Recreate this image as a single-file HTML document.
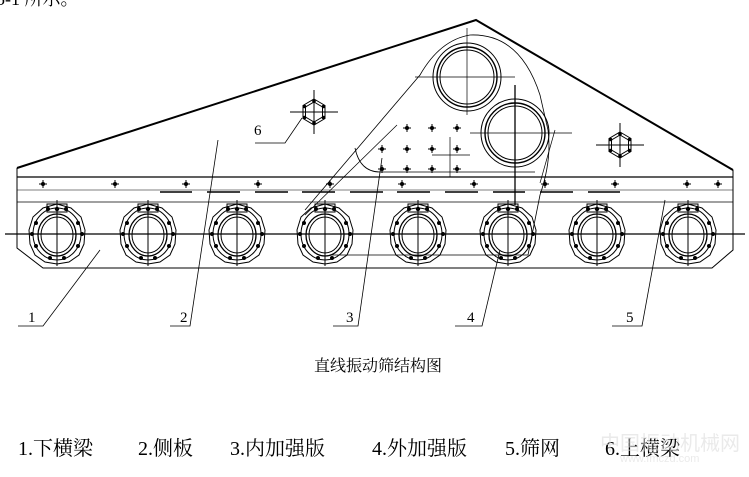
<!DOCTYPE html>
<html><head><meta charset="utf-8"><style>
html,body{margin:0;padding:0;background:#fff;}
body{width:749px;height:477px;overflow:hidden;position:relative;}
svg{position:absolute;left:0;top:0;}
.t{font-family:"Liberation Serif","Noto Serif CJK SC",serif;}
</style></head><body>
<svg width="749" height="477" viewBox="0 0 749 477" xmlns="http://www.w3.org/2000/svg">
<defs>
<g id="ring" fill="none" stroke="#000" stroke-width="1">
 <polygon points="0,-30 14,-26 24,-17 28,-4 27,10 22,21 12,28 0,30 -12,28 -22,21 -27,10 -28,-4 -24,-17 -14,-26"/>
 <ellipse cx="0" cy="0" rx="24" ry="26"/>
 <ellipse cx="0" cy="1" rx="19" ry="21" stroke-width="1.3"/>
 <ellipse cx="0" cy="1" rx="16" ry="18"/>
 <rect x="-10" y="-30" width="20" height="8"/>
 <line x1="0" y1="-34" x2="0" y2="32"/>
 <g fill="#000" stroke="none">
  <circle cx="0" cy="-25" r="2.2"/><circle cx="-9" cy="-25" r="2"/><circle cx="9" cy="-25" r="2"/>
  <circle cx="-21" cy="-11" r="2"/><circle cx="21" cy="-11" r="2"/>
  <circle cx="-25" cy="0" r="2"/><circle cx="25" cy="0" r="2"/>
  <circle cx="-21" cy="12" r="2"/><circle cx="21" cy="12" r="2"/>
  <circle cx="-7" cy="24" r="2"/><circle cx="7" cy="24" r="2"/>
 </g>
</g>
<g id="hex" fill="none" stroke="#000" stroke-width="1">
 <polygon points="0,-13 11,-6.5 11,6.5 0,13 -11,6.5 -11,-6.5"/>
 <polygon points="0,-10 8.5,-5 8.5,5 0,10 -8.5,5 -8.5,-5"/>
 <line x1="-24" y1="0" x2="24" y2="0"/><line x1="0" y1="-22" x2="0" y2="22"/>
 <g fill="#000" stroke="none"><circle cx="0" cy="-11" r="1.8"/><circle cx="0" cy="11" r="1.8"/><circle cx="-9.5" cy="-5.5" r="1.8"/><circle cx="9.5" cy="-5.5" r="1.8"/><circle cx="-9.5" cy="5.5" r="1.8"/><circle cx="9.5" cy="5.5" r="1.8"/></g>
</g>
<g id="bolt"><circle r="2" fill="#000"/><line x1="-4" y1="0" x2="4" y2="0" stroke="#000"/><line x1="0" y1="-4" x2="0" y2="4" stroke="#000"/></g>
</defs>

<text x="-4" y="5" class="t" font-size="18">5-1 所示。</text>

<g fill="none" stroke="#000">
 <polyline points="17,168 476,20 733,170" stroke-width="2"/>
 <polyline points="17,168 17,248 43,268 712,268 733,250 733,170" stroke-width="1"/>
 <line x1="17" y1="177" x2="733" y2="177" stroke-width="1.2"/>
 <line x1="17" y1="190" x2="733" y2="190" stroke-width="0.6"/>
 <line x1="17" y1="202" x2="733" y2="202" stroke-width="0.8"/>
 <g stroke-width="1.5">
  <line x1="160" y1="192" x2="192" y2="192"/><line x1="207" y1="192" x2="240" y2="192"/>
  <line x1="255" y1="192" x2="288" y2="192"/><line x1="302" y1="192" x2="335" y2="192"/>
  <line x1="350" y1="192" x2="383" y2="192"/><line x1="397" y1="192" x2="430" y2="192"/>
  <line x1="445" y1="192" x2="478" y2="192"/><line x1="493" y1="192" x2="525" y2="192"/>
  <line x1="540" y1="192" x2="573" y2="192"/><line x1="588" y1="192" x2="620" y2="192"/>
 </g>
 <line x1="5" y1="234" x2="745" y2="234" stroke-width="1.2"/>
 <path d="M305,210 L420,75 Q440,40 470,35 Q520,33 540,95 L548,130 Q552,160 540,195 L528,255 L330,255" stroke-width="0.8"/>
 <path d="M355,148 Q360,172 380,172 L535,172" stroke-width="0.8"/>
 <circle cx="467" cy="77" r="34" stroke-width="1"/><circle cx="467" cy="77" r="30" stroke-width="1.4"/><circle cx="467" cy="77" r="27"/>
 <circle cx="515" cy="133" r="34"/><circle cx="515" cy="133" r="30" stroke-width="1.4"/><circle cx="515" cy="133" r="27"/>
 <line x1="415" y1="77" x2="515" y2="77" stroke-width="0.7"/><line x1="467" y1="28" x2="467" y2="115" stroke-width="0.7"/>
 <line x1="470" y1="133" x2="572" y2="133" stroke-width="0.7"/><line x1="515" y1="85" x2="515" y2="205" stroke-width="1.3"/>
 <line x1="432" y1="155" x2="470" y2="155" stroke-width="0.7"/><line x1="450" y1="137" x2="450" y2="177" stroke-width="0.7"/>
 <polyline points="18,326 43,326 100,250" stroke-width="0.8"/>
 <polyline points="170,326 190,326 218,140" stroke-width="0.8"/>
 <polyline points="333,326 358,326 382,158" stroke-width="0.8"/>
 <polyline points="455,326 482,326 500,250" stroke-width="0.8"/>
 <polyline points="612,326 642,326 665,200" stroke-width="0.8"/>
 <polyline points="255,143 285,143 302,118" stroke-width="0.8"/>
 <line x1="305" y1="215" x2="397" y2="125" stroke-width="0.7"/>
 <line x1="540" y1="183" x2="555" y2="130" stroke-width="0.7"/>
</g>
<g>
 <use href="#ring" x="57" y="234"/><use href="#ring" x="148" y="234"/><use href="#ring" x="237" y="234"/><use href="#ring" x="325" y="234"/>
 <use href="#ring" x="418" y="234"/><use href="#ring" x="508" y="234"/><use href="#ring" x="597" y="234"/><use href="#ring" x="688" y="234"/>
 <use href="#hex" x="314" y="112"/><use href="#hex" x="620" y="145"/>
 <use href="#bolt" x="43" y="184"/><use href="#bolt" x="115" y="184"/><use href="#bolt" x="186" y="184"/><use href="#bolt" x="258" y="184"/>
 <use href="#bolt" x="330" y="184"/><use href="#bolt" x="402" y="184"/><use href="#bolt" x="474" y="184"/><use href="#bolt" x="545" y="184"/>
 <use href="#bolt" x="615" y="184"/><use href="#bolt" x="687" y="184"/><use href="#bolt" x="718" y="184"/>
 <use href="#bolt" x="407" y="128"/><use href="#bolt" x="432" y="128"/><use href="#bolt" x="457" y="128"/>
 <use href="#bolt" x="382" y="149"/><use href="#bolt" x="407" y="149"/><use href="#bolt" x="432" y="149"/><use href="#bolt" x="457" y="149"/>
 <use href="#bolt" x="382" y="169"/><use href="#bolt" x="407" y="169"/><use href="#bolt" x="432" y="169"/><use href="#bolt" x="457" y="169"/>
</g>
<g class="t" font-size="15" fill="#000">
 <text x="28" y="322">1</text><text x="180" y="322">2</text><text x="346" y="322">3</text><text x="467" y="322">4</text><text x="626" y="322">5</text>
 <text x="254" y="135">6</text>
</g>
<text x="378" y="371" class="t" font-size="16" text-anchor="middle">直线振动筛结构图</text>
<g class="t" font-size="20" fill="#000">
 <text x="18" y="455">1.下横梁</text>
 <text x="138" y="455">2.侧板</text>
 <text x="230" y="455">3.内加强版</text>
 <text x="372" y="455">4.外加强版</text>
 <text x="505" y="455">5.筛网</text>
 <text x="605" y="455">6.上横梁</text>
</g>
<text x="600" y="450" font-family="Liberation Sans,'Noto Sans CJK SC',sans-serif" font-size="20" fill="#ddd" opacity="0.6">中国振动机械网</text>
<text x="620" y="462" font-family="Liberation Sans,sans-serif" font-size="11" fill="#ddd" opacity="0.6">www.fmczd.com</text>
</svg>
</body></html>
